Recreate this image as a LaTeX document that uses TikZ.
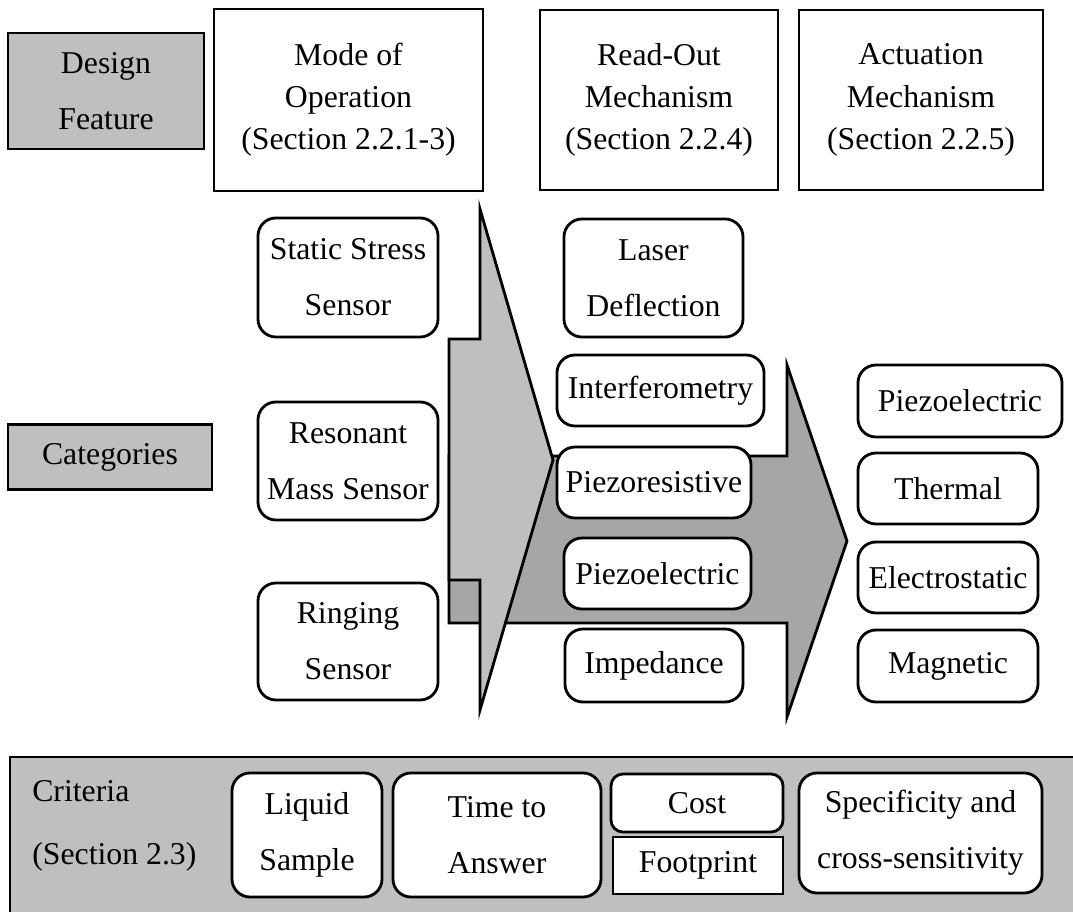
\documentclass[tikz,border=0pt]{standalone}
\usepackage{fontspec}
\setmainfont{Liberation Serif}
\definecolor{lgray}{HTML}{BFBFBF}
\definecolor{dgray}{HTML}{A6A6A6}

\begin{document}
\begin{tikzpicture}[x=0.025cm, y=-0.025cm,
box/.style={draw, line width=2pt, fill=white, align=center, inner sep=1pt, font=\fontsize{22.6}{40}\selectfont},
rbox/.style={box, rounded corners=0.45cm},
hbox/.style={box, font=\fontsize{22.6}{30}\selectfont},
gbox/.style={box, fill=lgray},
blk/.style={draw, line width=2pt}
]
\useasboundingbox (0,0) rectangle (1073,912);

% criteria panel
\fill[lgray] (10,757) rectangle (1090,930);
\draw[line width=2pt] (1090,757) -- (10,757) -- (10,930);

% block arrows
\draw[blk, fill=dgray] (449,456) -- (787,456) -- (787,365) -- (847,541) -- (787,717) -- (787,623) -- (449,623) -- cycle;
\draw[blk, fill=lgray] (449,339) -- (480,339) -- (480,209) -- (553,460) -- (480,710) -- (480,580) -- (449,580) -- cycle;

% header row
\node[gbox, minimum width=4.9cm, minimum height=2.9cm] (feat) at (106,91) {Design\\Feature};
\node[hbox, minimum width=6.725cm, minimum height=4.55cm] (mode) at (348.5,100) {Mode of\\Operation\\(Section 2.2.1-3)};
\node[hbox, minimum width=5.95cm, minimum height=4.5cm] (readout) at (659,100) {Read-Out\\Mechanism\\(Section 2.2.4)};
\node[hbox, minimum width=6.1cm, minimum height=4.5cm] (actu) at (921,100) {Actuation\\Mechanism\\(Section 2.2.5)};
\node[gbox, minimum width=5.1cm, minimum height=1.625cm] (cat) at (110,457) {Categories};

% mode of operation
\node[rbox, minimum width=4.5cm, minimum height=2.975cm] (static) at (348,277.5) {Static Stress\\Sensor};
\node[rbox, minimum width=4.5cm, minimum height=2.95cm] (reson) at (348,461) {Resonant\\Mass Sensor};
\node[rbox, minimum width=4.5cm, minimum height=2.925cm] (ring) at (348,641.5) {Ringing\\Sensor};

% read-out
\node[rbox, minimum width=4.475cm, minimum height=2.95cm] (laser) at (653.5,278) {Laser\\Deflection};
\node[rbox, minimum width=5.175cm, minimum height=1.775cm] (interf) at (660.5,390.5) {Interferometry};
\node[rbox, minimum width=4.85cm, minimum height=1.775cm] (pres) at (654,482.5) {Piezoresistive};
\node[rbox, minimum width=4.675cm, minimum height=1.775cm] (pel) at (657.5,573.5) {Piezoelectric};
\node[rbox, minimum width=4.45cm, minimum height=1.825cm] (imp) at (654,665.5) {Impedance};

% actuation
\node[rbox, minimum width=5.1cm, minimum height=1.8cm] (apel) at (960,401) {Piezoelectric};
\node[rbox, minimum width=4.5cm, minimum height=1.775cm] (therm) at (948,488.5) {Thermal};
\node[rbox, minimum width=4.5cm, minimum height=1.775cm] (estat) at (948,577.5) {Electrostatic};
\node[rbox, minimum width=4.5cm, minimum height=1.8cm] (magn) at (948,666) {Magnetic};

% criteria
\node[align=left, anchor=west, inner sep=0pt, font=\fontsize{22.6}{45}\selectfont] (crit) at (32,826) {Criteria\\(Section 2.3)};
\node[rbox, minimum width=3.75cm, minimum height=3.1cm] (liquid) at (307,835) {Liquid\\Sample};
\node[rbox, minimum width=5.2cm, minimum height=3.1cm] (time) at (497,835) {Time to\\Answer};
\node[box, rounded corners=0.3cm, minimum width=4.3cm, minimum height=1.45cm] (cost) at (697,803) {Cost};
\node[box, minimum width=4.25cm, minimum height=1.425cm] (foot) at (698,865.5) {Footprint};
\node[rbox, minimum width=6.075cm, minimum height=3.0cm] (spec) at (920.5,833) {Specificity and\\cross-sensitivity};
\end{tikzpicture}
\end{document}
